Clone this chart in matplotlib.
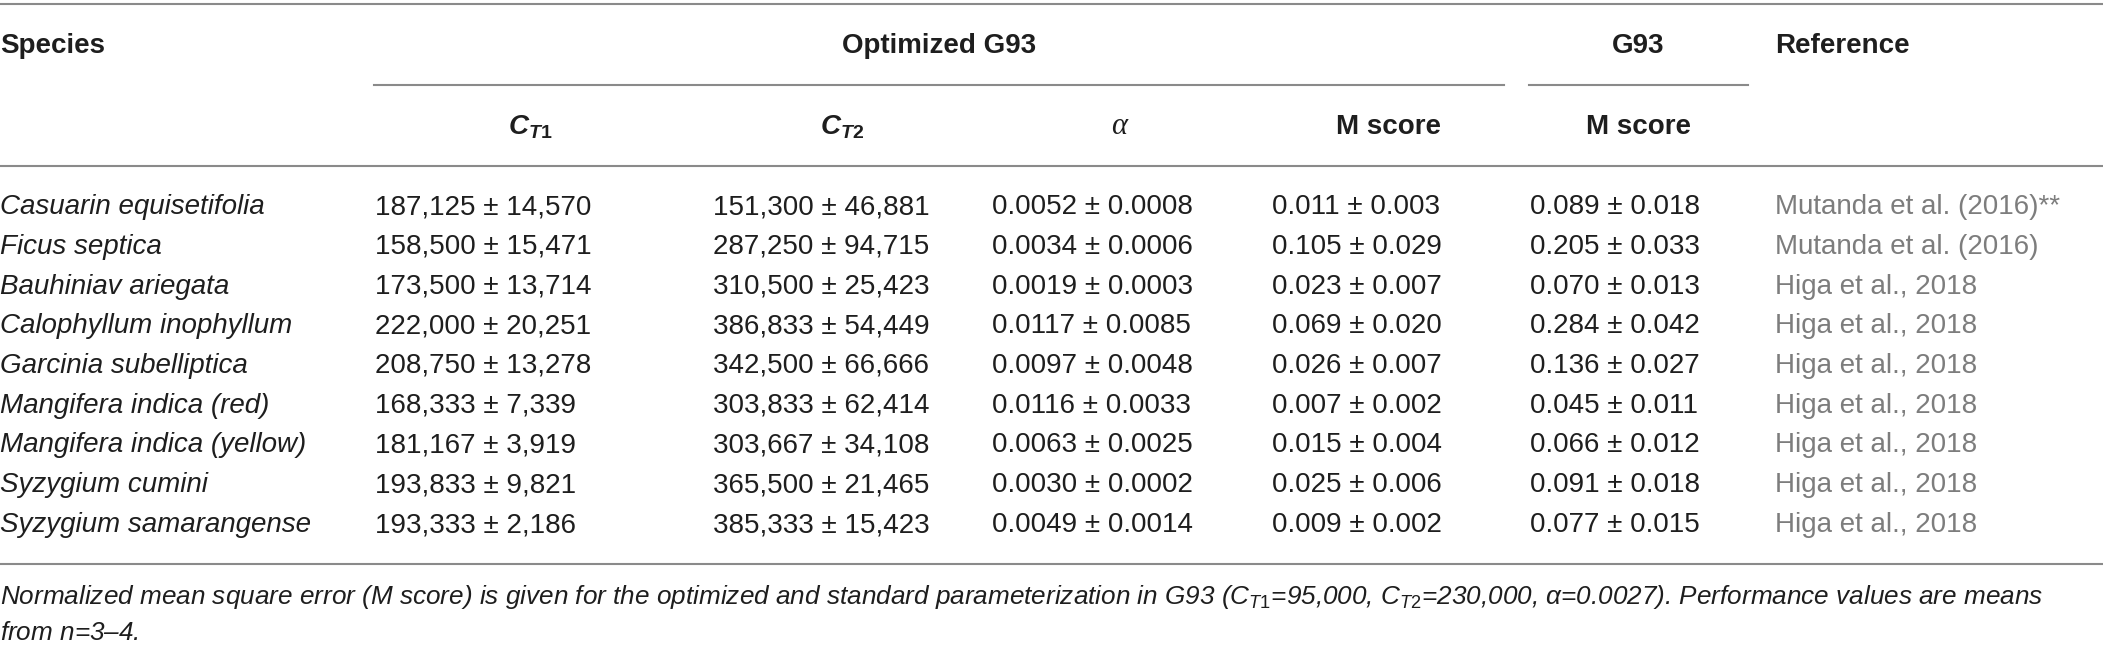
import matplotlib
matplotlib.use("Agg")
import matplotlib.pyplot as plt

# table data
species = ["Casuarin equisetifolia", "Ficus septica", "Bauhiniav ariegata",
           "Calophyllum inophyllum", "Garcinia subelliptica", "Mangifera indica (red)",
           "Mangifera indica (yellow)", "Syzygium cumini", "Syzygium samarangense"]
ct1_mean = [187125, 158500, 173500, 222000, 208750, 168333, 181167, 193833, 193333]
ct1_sd = [14570, 15471, 13714, 20251, 13278, 7339, 3919, 9821, 2186]
ct2_mean = [151300, 287250, 310500, 386833, 342500, 303833, 303667, 365500, 385333]
ct2_sd = [46881, 94715, 25423, 54449, 66666, 62414, 34108, 21465, 15423]
alpha_mean = [0.0052, 0.0034, 0.0019, 0.0117, 0.0097, 0.0116, 0.0063, 0.0030, 0.0049]
alpha_sd = [0.0008, 0.0006, 0.0003, 0.0085, 0.0048, 0.0033, 0.0025, 0.0002, 0.0014]
m_opt_mean = [0.011, 0.105, 0.023, 0.069, 0.026, 0.007, 0.015, 0.025, 0.009]
m_opt_sd = [0.003, 0.029, 0.007, 0.020, 0.007, 0.002, 0.004, 0.006, 0.002]
m_g93_mean = [0.089, 0.205, 0.070, 0.284, 0.136, 0.045, 0.066, 0.091, 0.077]
m_g93_sd = [0.018, 0.033, 0.013, 0.042, 0.027, 0.011, 0.012, 0.018, 0.015]
references = ["Mutanda et al. (2016)**", "Mutanda et al. (2016)"] + ["Higa et al., 2018"] * 7

FONT = "Liberation Sans"
plt.rcParams["font.family"] = [FONT, "DejaVu Sans"]
plt.rcParams["mathtext.fontset"] = "custom"
plt.rcParams["mathtext.rm"] = FONT
plt.rcParams["mathtext.it"] = FONT + ":italic"
plt.rcParams["mathtext.bf"] = FONT + ":bold"
plt.rcParams["mathtext.bfit"] = FONT + ":italic:bold"

W, H = 2103, 653
fig = plt.figure(figsize=(W / 100, H / 100), dpi=100)
ax = fig.add_axes([0, 0, 1, 1])
ax.set_xlim(0, W)
ax.set_ylim(H, 0)
ax.axis("off")

fs = 20
line_col = "#8a8a8a"
txt_col = "#1e1e1e"
ref_col = "#7d7d7d"

# rules
ax.plot([0, W], [4, 4], color=line_col, lw=1.5)
ax.plot([374, 1504], [85, 85], color=line_col, lw=1.5)
ax.plot([1529, 1748], [85, 85], color=line_col, lw=1.5)
ax.plot([0, W], [166, 166], color=line_col, lw=1.5)
ax.plot([0, W], [564, 564], color=line_col, lw=1.5)

# header
hy1, hy2 = 46, 127
ax.text(0, hy1, "Species", fontsize=fs, weight="bold", va="center", ha="left", color=txt_col)
ax.text(939, hy1, "Optimized G93", fontsize=fs, weight="bold", va="center", ha="center", color=txt_col)
ax.text(1638, hy1, "G93", fontsize=fs, weight="bold", va="center", ha="center", color=txt_col)
ax.text(1775, hy1, "Reference", fontsize=fs, weight="bold", va="center", ha="left", color=txt_col)
ax.text(530, hy2, r"$\mathbfit{C}_{\mathbfit{T}\mathbf{1}}$", fontsize=fs, va="center", ha="center", color=txt_col)
ax.text(842, hy2, r"$\mathbfit{C}_{\mathbfit{T}\mathbf{2}}$", fontsize=fs, va="center", ha="center", color=txt_col)
ax.text(1119, hy2, "α", fontsize=fs + 2, style="italic", family="Liberation Serif", va="center", ha="center", color=txt_col)
ax.text(1388, hy2, "M score", fontsize=fs, weight="bold", va="center", ha="center", color=txt_col)
ax.text(1639, hy2, "M score", fontsize=fs, weight="bold", va="center", ha="center", color=txt_col)

# body
row0, pitch = 207, 39.75
for i, sp in enumerate(species):
    y = row0 + i * pitch
    ax.text(0, y, sp, fontsize=fs, style="italic", va="center", ha="left", color=txt_col)
    ax.text(375, y, f"{ct1_mean[i]:,} ± {ct1_sd[i]:,}", fontsize=fs, va="center", color=txt_col)
    ax.text(713, y, f"{ct2_mean[i]:,} ± {ct2_sd[i]:,}", fontsize=fs, va="center", color=txt_col)
    ax.text(992, y, f"{alpha_mean[i]:.4f} ± {alpha_sd[i]:.4f}", fontsize=fs, va="center", color=txt_col)
    ax.text(1272, y, f"{m_opt_mean[i]:.3f} ± {m_opt_sd[i]:.3f}", fontsize=fs, va="center", color=txt_col)
    ax.text(1530, y, f"{m_g93_mean[i]:.3f} ± {m_g93_sd[i]:.3f}", fontsize=fs, va="center", color=txt_col)
    ax.text(1775, y, references[i], fontsize=fs, va="center", color=ref_col)

# footnote, shrunk so the first line ends where the reference's does
note1 = ("Normalized mean square error (M score) is given for the optimized and standard "
         "parameterization in G93 ($C_{T1}$=95,000, $C_{T2}$=230,000, $\\alpha$=0.0027). "
         "Performance values are means")
note2 = "from $n$=3–4."
t1 = ax.text(0, 597, note1, fontsize=fs, style="italic", va="center", ha="left", color=txt_col)
fig.canvas.draw()
w1 = t1.get_window_extent().width
fs_note = fs * 2042 / w1
t1.set_fontsize(fs_note)
ax.text(0, 633, note2, fontsize=fs_note, style="italic", va="center", ha="left", color=txt_col)

fig.savefig("out.png", dpi=100)
